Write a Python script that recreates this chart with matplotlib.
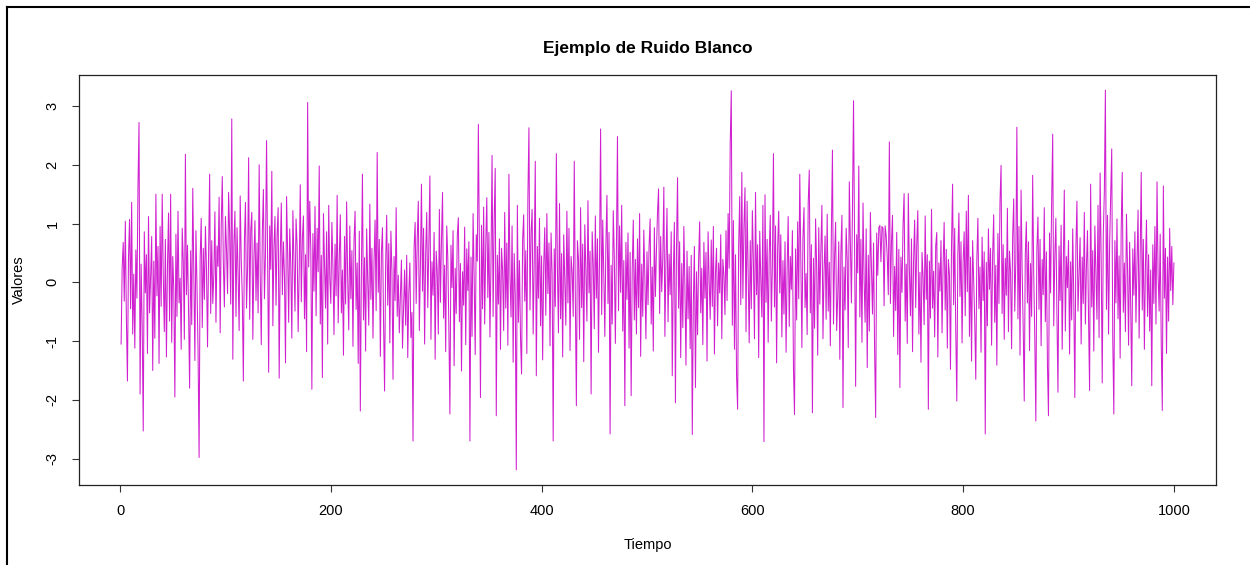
import matplotlib.pyplot as plt
from matplotlib.lines import Line2D

plt.rcParams['font.family'] = ['Liberation Sans', 'DejaVu Sans']
plt.rcParams['axes.unicode_minus'] = False

# Valores del ruido blanco (t = 1..1000)
valores = [
    -1.05, 0.25, 0.68, -0.32, 1.04, -0.61, -1.68, 0.42, 1.07, -0.45,
    1.36, -0.88, 0.14, -1.12, 0.55, -0.27, 1.62, 2.72, -1.90, 0.31,
    -0.74, -2.53, 0.86, -0.18, 0.47, -1.21, 1.12, -0.52, 0.09, 0.78,
    -1.50, 0.36, -0.95, 1.50, -0.23, 0.61, -1.38, 0.95, -0.41, 1.50,
    0.12, -0.84, 0.73, -1.27, 0.28, 1.18, -0.66, 1.50, -1.02, 0.44,
    -0.13, -1.95, 0.82, -0.58, 1.21, -0.35, 0.07, -1.14, 0.92, 0.35,
    -0.97, 2.18, -0.21, 0.63, -0.48, -1.80, 0.54, -0.72, 1.60, 0.19,
    -1.33, 0.88, -0.06, -1.15, -2.98, 0.39, 1.09, -0.77, 0.58, -0.29,
    0.95, 0.23, -1.10, 0.47, 1.84, -0.53, 0.71, -0.36, 0.14, 1.20,
    -0.68, 0.62, 0.27, 1.45, -0.86, 0.97, 1.80, 0.33, -0.42, 1.12,
    0.56, -0.19, 1.53, 0.82, -0.37, 2.78, -1.31, 0.64, 1.21, -0.58,
    0.93, 0.16, -0.82, 1.47, 0.38, -0.25, -1.68, 0.71, 1.36, -0.44,
    0.25, 2.12, -0.63, 0.88, 1.19, -0.97, 0.41, 1.05, -0.31, 0.67,
    -0.52, 2.00, 0.14, -1.06, 0.83, 1.58, -0.28, 0.49, 2.41, 0.35,
    -1.53, 0.96, 0.22, 1.89, -0.74, 0.58, 1.12, -0.39, 0.81, 1.27,
    -1.63, 0.44, 1.35, -0.21, 0.69, 0.12, -1.37, 1.46, 0.53, -0.68,
    0.91, 0.28, -0.95, 1.22, 0.37, -0.49, 1.08, 0.64, -0.84, 0.19,
    1.66, -0.33, 0.75, 1.13, -0.62, 0.47, -1.18, 3.06, 0.26, 1.38,
    0.55, -1.82, 0.83, -0.15, 1.29, -0.57, 0.92, 0.18, 1.98, -0.71,
    0.46, -1.62, 1.17, 0.31, -0.44, 0.86, -1.05, 1.31, 0.08, -0.36,
    1.02, 0.27, -0.89, 0.65, -0.23, 1.48, -0.69, 0.39, 1.15, -0.52,
    0.21, -1.24, 0.78, -0.37, 1.37, 0.05, -0.81, 0.96, -0.28, 0.54,
    -1.09, 0.69, 1.21, -0.46, 0.33, -1.38, 0.87, -2.19, 0.15, 1.84,
    -0.64, 0.42, -1.17, 0.91, 0.02, -0.73, 1.33, -0.29, 0.58, -0.95,
    0.36, 1.06, -0.48, 2.21, -0.17, 0.73, -1.26, 0.51, 0.93, -0.62,
    -1.85, 0.28, 1.14, -0.39, 0.66, -1.03, 0.87, 0.19, -1.65, 0.44,
    -0.31, 1.27, -0.58, 0.12, -0.86, -0.25, 0.38, -1.12, -0.47, 0.21,
    -0.73, 0.46, -1.28, -0.18, 0.33, -0.94, -0.51, -2.70, 0.58, 1.02,
    -0.36, 0.74, 1.38, -0.82, 0.27, 1.67, -0.15, 0.92, -1.05, 0.49,
    1.19, -0.43, 0.61, 1.81, -0.97, 0.35, -0.22, 0.85, -1.31, 0.53,
    0.17, -0.88, 1.24, -0.34, 0.72, 1.53, -0.61, 0.29, -1.18, 0.96,
    0.41, -0.76, -2.24, 0.63, -0.09, 0.88, -1.42, 0.24, -0.53, 0.79,
    1.10, -0.67, 0.32, -1.51, 0.18, -0.39, 0.94, -1.06, 0.57, -0.14,
    0.69, -2.70, 0.43, -0.92, 1.17, 0.08, -1.23, 0.81, 0.36, 2.69,
    0.52, -1.96, 0.97, -0.45, 1.28, -0.71, 0.63, 1.44, -0.26, 0.85,
    -0.93, 0.39, 2.16, -0.58, 1.07, 1.94, -2.27, 0.46, -0.37, 0.74,
    -1.14, 0.58, 0.21, -0.82, 1.19, -0.44, 0.67, -1.07, 1.84, 0.13,
    -0.59, 0.96, -1.36, 0.49, -0.21, -3.19, 1.31, -0.68, 0.37, -0.95,
    -1.56, 0.72, 1.15, -0.32, 0.54, -1.21, 1.46, 2.63, -0.47, 0.83,
    1.24, -0.88, 0.36, 2.06, -1.59, 0.61, -0.27, 1.09, -0.74, 0.45,
    -1.32, 0.28, 0.93, -0.56, 1.17, -0.19, 0.67, -1.08, 0.84, 0.13,
    -2.70, 0.57, -0.41, 2.19, 0.25, -0.86, 1.34, -0.62, 0.49, -1.27,
    0.81, 0.06, -0.73, 1.21, -0.35, 0.92, -1.16, 0.44, 0.17, -0.58,
    2.06, -0.24, -2.10, 0.71, 0.39, -0.97, 1.27, -0.43, 0.65, -1.35,
    0.98, 0.22, -0.66, 1.39, -0.18, 0.53, -1.90, 0.86, 0.31, -0.79,
    1.13, -0.27, 0.74, -1.19, 0.47, 2.61, -0.55, 1.06, 0.18, -0.92,
    0.63, 1.48, -0.36, 0.85, -2.58, 0.29, -0.71, 1.22, 0.43, -1.04,
    0.57, 2.48, -0.48, 0.96, -0.17, 1.31, -0.83, 0.37, -2.10, 0.68,
    -0.29, 0.84, -1.12, 0.51, -1.93, 0.22, 1.06, -0.64, 0.39, -0.88,
    0.74, -0.43, 1.17, -1.26, 0.31, -0.58, 0.89, 0.07, -0.96, 0.52,
    -0.38, 0.62, 1.08, -0.71, 0.26, -1.17, 0.93, -0.24, 0.55, 1.19,
    1.59, -0.53, 0.78, -0.16, 0.41, 1.62, -0.92, 0.34, 1.26, -0.67,
    0.48, -0.21, 0.86, -1.59, 0.13, 1.02, -2.05, 0.57, 1.78, -0.44,
    0.69, -1.28, 0.32, -0.77, 0.95, -0.09, -1.41, 0.53, -0.62, 0.27,
    -1.13, 0.46, -2.59, -0.35, 0.61, -1.79, 0.18, -0.89, 0.37, 1.03,
    -0.52, 0.24, -1.06, 0.68, -0.27, 0.51, -1.34, 0.86, 0.03, -0.63,
    0.72, -0.41, 0.95, -1.22, 0.16, 0.58, -0.74, 0.33, -0.18, 0.81,
    -0.96, 0.39, 0.12, -0.55, 0.88, -0.31, 1.17, 0.24, 2.36, 3.26,
    -0.73, 1.05, -1.14, 0.47, -1.58, -2.16, 0.62, 1.46, -0.38, 1.87,
    -0.27, 0.93, 1.61, -0.84, 1.38, 0.19, -1.03, 0.71, -0.45, 1.22,
    0.36, -0.96, 1.53, -0.21, 0.64, -1.28, 0.87, 0.05, -0.59, 1.31,
    -2.71, 1.49, -0.34, 0.73, -1.02, 0.48, 1.14, -0.66, 0.29, 2.19,
    -0.42, 0.96, -1.37, 0.58, 1.21, -0.18, 0.81, -0.93, 0.37, -0.54,
    0.69, -1.19, 0.23, 1.12, -0.75, 0.44, -0.12, 0.88, -1.46, -2.25,
    0.57, -0.64, 1.03, -0.28, 1.84, 0.32, -1.11, 0.76, 1.27, -0.43,
    0.15, -0.89, 1.36, 1.91, -0.52, 0.64, -2.22, 0.41, -0.78, 1.08,
    0.27, -1.24, 0.93, -0.37, 0.55, 1.31, -0.96, 0.18, 0.79, -0.63,
    1.16, -0.49, 0.34, -1.08, 0.87, 2.25, -0.71, 0.43, 1.02, -0.82,
    -0.25, 0.69, -1.31, 0.51, 1.14, -2.13, 0.26, -0.47, 0.92, 0.38,
    -1.11, 1.71, 0.64, -0.35, 1.26, 3.09, 0.58, -1.77, 0.81, 0.16,
    1.98, -0.59, 0.73, -1.02, 1.35, 0.07, -0.68, 0.91, -1.45, 0.46,
    -0.83, 1.19, 0.25, -0.54, 0.67, -1.16, -2.30, 0.84, 0.12, 0.93,
    0.97, 0.35, 0.95, 0.92, -0.40, 0.96, 0.79, 0.43, -0.21, 2.39,
    -0.36, 0.68, 1.14, -0.92, 0.27, -0.48, 0.85, -1.23, 0.56, -1.79,
    0.43, -0.17, 0.98, 1.51, -0.66, 0.31, -1.04, 1.51, 0.22, -0.57,
    0.74, -1.18, 0.39, 1.06, -0.43, 0.65, 1.22, -0.88, 0.17, -1.36,
    0.51, 0.08, -0.72, 1.13, -0.29, 0.47, -2.16, 0.36, -0.61, 1.24,
    -0.44, 0.19, -0.93, 0.62, 0.85, -1.27, 0.33, -0.15, 0.71, -0.86,
    0.28, 1.02, -0.47, 0.56, -1.12, 0.39, 0.13, -1.48, 0.64, 1.67,
    -0.38, 0.92, -0.81, -2.02, 0.47, 1.18, -0.24, 0.69, -1.03, 0.35,
    0.86, -0.57, 1.21, -0.16, 1.48, -0.92, 0.43, -1.34, 0.71, 0.05,
    -0.63, -1.65, 0.38, 1.09, -0.45, 0.26, -1.19, 0.77, -0.31, 0.52,
    -2.58, 0.34, -0.74, 0.91, -0.12, 0.58, -1.07, 0.46, 1.15, -0.68,
    0.29, -1.41, 0.83, -0.36, 1.37, 1.99, -0.53, 0.64, -0.97, 0.41,
    -0.22, 1.26, -0.84, 0.53, 0.17, -1.13, 0.78, 1.42, -0.49, 0.36,
    2.64, -0.62, 0.95, -1.24, 1.57, 0.21, -0.77, -2.02, 0.48, 1.03,
    -0.35, 0.69, -1.16, 0.32, -0.58, 1.82, 0.14, -0.93, -2.36, 0.57,
    1.11, -0.46, 0.73, -1.08, 0.39, -0.21, 1.27, -0.67, 0.52, -1.39,
    -2.27, 0.84, -0.18, 1.36, 2.52, -0.74, 0.43, 1.09, -0.55, -1.87,
    0.62, -0.31, 0.97, -1.14, 0.26, 1.57, -0.83, 0.44, -0.09, 0.71,
    -1.22, 0.35, -0.64, 0.91, -0.27, -1.96, 0.58, 1.38, -0.49, 0.12,
    0.76, -1.05, 0.43, -0.36, 1.19, -0.71, 0.25, 0.88, -0.58, -1.84,
    1.67, -0.42, 0.54, -1.17, 0.96, 0.18, -0.63, 1.31, -0.94, 1.86,
    0.37, -1.71, 0.82, 1.53, 3.27, -0.46, 1.14, -0.88, 0.63, 1.41,
    2.27, -0.97, -2.24, 0.71, -0.35, 1.08, -0.62, 0.45, -1.29, 0.92,
    1.87, -0.51, 0.33, -0.84, 1.16, 0.24, -1.07, 0.68, -0.39, -1.76,
    0.57, -0.22, 0.86, -0.68, 0.34, 1.23, -0.95, 0.41, 1.87, -0.47,
    0.73, -1.14, 0.29, 1.06, -0.58, 0.47, -0.83, 0.21, -1.76, 0.64,
    -0.36, 0.95, -0.71, 1.71, 0.13, -0.49, 0.82, -1.05, -2.18, 1.64,
    -0.27, 0.58, -1.21, 0.43, -0.66, 0.92, -0.14, 0.61, -0.38, 0.33,
]
tiempo = list(range(1, len(valores) + 1))

x_ticks = [0, 200, 400, 600, 800, 1000]
y_ticks = [-3, -2, -1, 0, 1, 2, 3]

fig = plt.figure(figsize=(12.5, 5.65), dpi=100)
ax = fig.add_axes([0.0632, 0.1416, 0.9096, 0.7257])

ax.plot(tiempo, valores, color='#D020D0', linewidth=0.75)

ax.margins(x=0.04, y=0.04)
ax.set_xticks(x_ticks)
ax.set_yticks(y_ticks)
ax.tick_params(axis='both', length=5, width=0.8, pad=9, labelsize=10.5,
               color='#333333')
for lab in ax.get_yticklabels():
    lab.set_rotation(90)
    lab.set_va('center')
for s in ax.spines.values():
    s.set_linewidth(0.9)
    s.set_color('#222222')

ax.set_title('Ejemplo de Ruido Blanco', fontsize=12.5, fontweight='bold', pad=16)
ax.set_xlabel('Tiempo', fontsize=10.5, labelpad=14)
ax.set_ylabel('Valores', fontsize=10.5, labelpad=14)

# marco exterior (solo izquierda y arriba, como en la captura)
fig.add_artist(Line2D([0.0056, 0.0056], [0.0, 0.9875], transform=fig.transFigure,
                      color='black', linewidth=1.5))
fig.add_artist(Line2D([0.0056, 1.0], [0.9875, 0.9875], transform=fig.transFigure,
                      color='black', linewidth=1.5))

plt.savefig('out.png', dpi=100)
